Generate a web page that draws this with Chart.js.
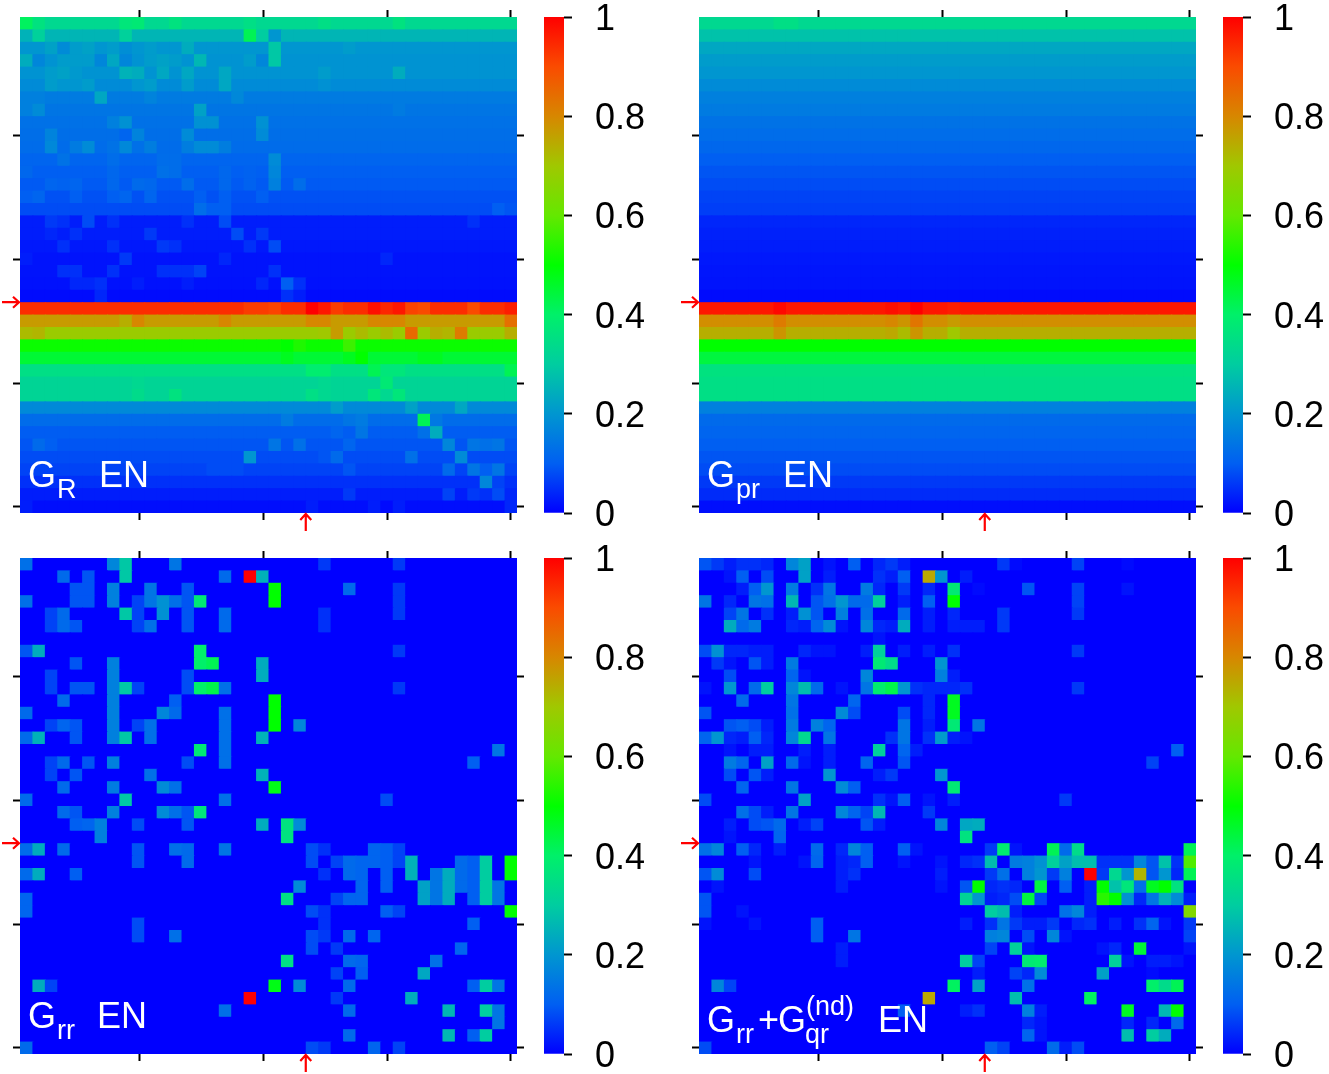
<!DOCTYPE html>
<html>
<head>
<meta charset="utf-8">
<title>G EN maps</title>
<script src="https://cdn.jsdelivr.net/npm/chart.js@4/dist/chart.umd.min.js"></script>
<style>
html, body { margin: 0; padding: 0; background: #fff; overflow: hidden; }
canvas { position: absolute; }
</style>
</head>
<body>
<script>
// tick positions, in cell units from the left / top edge
var xTickValues = [9.58, 19.56, 29.55, 39.5];
var yTickValues = [9.55, 19.55, 29.55, 39.5];
var colorbarTicks = [0, 0.2, 0.4, 0.6, 0.8, 1];
var arrowCol = 23;
var arrowRow = 23;

// colour map
var mapStops  = [0, 0.1, 0.2, 0.3, 0.4, 0.5, 0.6, 0.7, 0.8, 0.9, 1];
var mapColors = [[0,0,255],[0,95,242],[0,150,208],[0,205,160],[0,240,105],[0,255,0],[100,232,0],[160,200,0],[215,135,0],[250,75,0],[255,0,0]];

// G_R: value of each row, then [col, value, col, value...] per row where a cell differs
var grBase = [.33,.256,.2,.195,.195,.18,.15,.14,.133,.128,.123,.11,.1,.095,.085,.08,.03,.03,.025,.02,
              .02,.018,.012,.94,.77,.69,.51,.45,.35,.32,.32,.177,.123,.098,.09,.08,.07,.05,.03,.015];
var grRows = [
  [0,.41,1,.36,8,.37,9,.38,12,.36,18,.35,24,.35,30,.36],
  [0,.25,1,.31,8,.31,18,.42,19,.3,20,.2],
  [2,.22,3,.18,4,.21,5,.22,7,.21,8,.185,10,.21,13,.24,20,.29,26,.21],
  [0,.24,1,.17,3,.21,4,.21,5,.21,6,.17,7,.23,8,.17,10,.21,11,.22,12,.21,14,.26,18,.21,19,.17,20,.29],
  [2,.21,3,.22,4,.205,8,.25,9,.24,11,.23,13,.23,16,.23,24,.21,30,.24],
  [2,.21,3,.2,4,.2,5,.21,9,.2,10,.21,13,.21,16,.23,24,.19],
  [0,.16,1,.16,6,.23,10,.165,17,.175],
  [0,.16,1,.18,14,.22,30,.15],
  [7,.16,8,.19,14,.19,15,.19,19,.19],
  [2,.165,8,.11,9,.165,13,.18,19,.18],
  [2,.175,4,.15,5,.18,7,.135,8,.175,9,.13,10,.155,13,.155,14,.18,15,.18,16,.155],
  [3,.135,7,.125,11,.125,12,.125,20,.18],
  [0,.115,7,.115,11,.13,12,.125,16,.115,18,.105,20,.17],
  [2,.11,3,.105,4,.11,7,.115,9,.12,10,.115,13,.125,16,.115,18,.105,20,.16,22,.125],
  [0,.1,1,.11,4,.1,7,.1,8,.11,10,.11,14,.1,16,.1,19,.1],
  [14,.125,15,.1,16,.1,38,.1,39,.09],
  [2,.06,3,.05,5,.08,7,.05,13,.05,16,.08,36,.05],
  [2,.04,4,.05,10,.06,17,.08,19,.06],
  [3,.05,7,.05,11,.06,12,.05,18,.05,20,.08],
  [0,.03,8,.06,16,.04,29,.04],
  [3,.05,4,.05,7,.05,11,.05,12,.05,13,.05,14,.07,20,.05],
  [4,.04,5,.04,6,.05,9,.03,13,.03,19,.04,21,.1,22,.05],
  [6,.04,21,.05,22,.03],
  [18,.92,19,.92,20,.91,23,1,24,.97,25,.92,28,.98,29,.95,30,.97,31,.91,32,.9,36,.9,39,.96],
  [8,.74,9,.8,16,.8,23,.8,24,.8,28,.8,29,.8,30,.8,39,.84],
  [0,.72,1,.73,24,.7,25,.77,27,.72,29,.72,31,.85,33,.74,34,.73,35,.82,39,.74],
  [21,.5,22,.53,26,.56],
  [21,.47,26,.47,27,.5,32,.47,33,.47],
  [23,.39,24,.39,28,.42,29,.37,30,.37,39,.42],
  [9,.33,24,.33,29,.38],
  [9,.34,12,.36,23,.35,24,.33,28,.37,29,.33,30,.37],
  [25,.21,31,.22,35,.23],
  [21,.15,26,.14,27,.15,32,.42,33,.145],
  [25,.11,27,.14,32,.13,33,.24],
  [1,.12,2,.1,20,.14,22,.13,26,.11,34,.17,36,.14,37,.13,38,.14],
  [18,.2,24,.09,25,.12,31,.13,35,.18],
  [15,.08,16,.08,17,.08,26,.09,34,.12,36,.14,37,.1,38,.14],
  [37,.17,38,.07],
  [26,.06,34,.07,36,.06,37,.05,38,.08,39,.04],
  [0,.03,23,.03,28,.03,29,.01,30,.03,39,.04]
];

// G_pr
var gprBase = [.33,.28,.23,.21,.2,.18,.16,.15,.135,.125,.115,.1,.09,.08,.07,.065,.04,.035,.03,.025,
               .022,.02,.012,.97,.79,.74,.5,.44,.36,.35,.35,.16,.12,.11,.1,.09,.08,.06,.045,.015];
var gprRows = [
  [6,.35,7,.35],[],[],[],[],[],[],[],[],[],[],[],[],[],[],[],[],[],[],[],[],[],[],
  [6,.99,15,.98,16,.97,17,1,20,.96],
  [6,.82,15,.8,16,.78,17,.83,20,.77],
  [6,.78,15,.75,16,.72,17,.78,20,.7],
  [],[],[],[],[],[],[],[],[],[],[],[],[],[]
];

// G_rr
var grrBase = null;
var grrRows = [
  [0,.13,7,.17,8,.29,12,.14,24,.06,30,.06],
  [3,.12,5,.09,8,.29,16,.12,18,1,19,.25],
  [4,.09,5,.09,7,.16,10,.14,13,.09,20,.5,26,.12,30,.06],
  [0,.13,4,.09,5,.09,7,.16,9,.07,10,.14,11,.19,12,.13,13,.09,14,.38,20,.5,30,.06],
  [2,.07,3,.12,8,.29,9,.07,11,.19,13,.09,16,.12,24,.05,30,.06],
  [2,.07,3,.12,4,.09,9,.07,10,.13,13,.09,16,.12,24,.05],
  [],
  [0,.09,1,.24,14,.4,30,.06],
  [4,.09,7,.16,14,.4,15,.42,19,.24],
  [2,.07,7,.16,13,.08,19,.24],
  [2,.07,4,.09,5,.09,7,.16,8,.29,9,.07,13,.08,14,.4,15,.43,16,.13,30,.06],
  [3,.12,7,.16,12,.1,20,.5],
  [0,.12,7,.16,11,.17,12,.12,16,.13,20,.5],
  [2,.07,3,.11,4,.09,7,.16,9,.07,10,.13,16,.13,20,.5,22,.17],
  [0,.12,1,.25,4,.09,7,.16,8,.29,10,.13,16,.13,19,.25],
  [14,.38,16,.13,38,.14],
  [2,.07,3,.12,5,.09,7,.16,13,.08,16,.13,36,.1],
  [2,.07,4,.09,10,.13,19,.25],
  [3,.12,7,.15,11,.18,12,.13,20,.48],
  [0,.12,8,.29,16,.13,29,.08],
  [3,.12,4,.09,7,.16,11,.18,12,.13,13,.09,14,.37],
  [4,.1,5,.11,6,.16,9,.08,13,.09,19,.24,21,.36,22,.18],
  [6,.16,21,.36],
  [0,.12,1,.24,3,.12,9,.09,12,.13,13,.12,16,.14,23,.08,24,.05,28,.11,29,.1,30,.07],
  [9,.09,13,.12,23,.08,25,.07,26,.12,27,.11,28,.11,29,.1,30,.07,31,.25,35,.12,36,.1,37,.3,39,.5],
  [0,.12,1,.24,4,.1,24,.05,26,.12,27,.11,29,.1,31,.25,33,.14,34,.24,35,.12,36,.1,37,.3,39,.5],
  [22,.18,27,.11,29,.1,32,.22,33,.14,34,.24,35,.12,36,.1,37,.3,38,.14],
  [0,.11,21,.35,25,.07,26,.11,27,.11,32,.22,33,.14,34,.24,36,.1,37,.3,38,.14],
  [0,.11,23,.08,24,.05,29,.1,30,.07,39,.5],
  [9,.08,24,.05,36,.1],
  [9,.08,12,.13,23,.08,24,.06,26,.12,28,.11],
  [23,.08,25,.06,35,.11],
  [21,.35,26,.12,27,.11,33,.13],
  [25,.07,27,.1,32,.23],
  [1,.24,2,.07,20,.48,22,.18,26,.12,36,.1,37,.3,38,.14],
  [18,1,25,.06,31,.24],
  [16,.13,26,.12,34,.26,37,.3,38,.14],
  [38,.14],
  [26,.12,34,.26,36,.1,37,.3],
  [0,.12,23,.08,24,.06,28,.11,30,.07]
];

// G_rr + G_qr^(nd)
var gqrBase = null;
var gqrRows = [
  [0,.09,1,.06,2,.03,3,.05,4,.05,5,.04,7,.17,8,.22,10,.02,12,.1,14,.04,15,.06,16,.03,24,.06,25,.01,30,.07,34,.01],
  [2,.02,3,.1,5,.08,8,.22,10,.03,14,.05,15,.03,16,.1,18,.75,19,.2,21,.03],
  [3,.03,4,.1,5,.2,7,.15,9,.05,10,.14,13,.15,14,.04,16,.06,18,.04,20,.38,22,.01,26,.09,30,.07,34,.02],
  [0,.14,2,.04,4,.14,5,.13,7,.26,9,.09,10,.13,11,.2,12,.12,13,.12,14,.31,16,.03,18,.1,20,.5,30,.07],
  [2,.07,3,.14,5,.05,7,.03,8,.19,9,.09,11,.16,13,.13,16,.12,18,.03,20,.04,24,.06,30,.06],
  [2,.24,3,.12,4,.15,7,.04,8,.03,9,.11,10,.18,11,.02,13,.17,14,.04,15,.03,16,.24,18,.03,20,.03,21,.03,22,.03,24,.06],
  [14,.02],
  [0,.08,1,.19,2,.04,3,.04,4,.03,5,.03,8,.04,9,.02,10,.02,13,.03,14,.31,16,.03,18,.03,20,.05,30,.06],
  [1,.06,2,.02,4,.09,5,.03,7,.15,14,.38,15,.34,19,.2],
  [2,.08,7,.11,8,.02,13,.17,19,.16,20,.03],
  [0,.02,2,.2,4,.12,5,.3,7,.17,8,.27,9,.12,11,.02,13,.14,14,.39,15,.43,16,.2,17,.05,18,.04,19,.04,20,.04,21,.05,30,.06],
  [3,.12,7,.14,12,.11,18,.04,20,.47],
  [0,.09,7,.13,11,.18,12,.08,16,.08,18,.04,20,.47],
  [2,.09,3,.1,4,.08,5,.03,7,.15,9,.16,10,.11,16,.14,18,.03,20,.38,22,.14],
  [0,.11,1,.2,2,.04,3,.03,4,.1,5,.04,7,.17,8,.33,10,.14,15,.05,16,.14,18,.05,19,.21,20,.03,21,.02],
  [2,.02,4,.03,5,.03,8,.03,10,.03,14,.31,16,.11,17,.03,38,.1],
  [2,.15,3,.11,5,.22,7,.12,8,.02,10,.03,13,.11,16,.09,36,.07],
  [2,.08,4,.09,5,.03,10,.2,14,.03,15,.06,19,.2],
  [3,.11,7,.14,11,.18,12,.1,20,.38],
  [0,.08,8,.22,14,.05,15,.02,16,.1,18,.02,20,.03,29,.06],
  [3,.13,4,.08,5,.03,7,.14,11,.17,12,.11,13,.07,14,.26,18,.06],
  [2,.03,4,.08,5,.09,6,.12,8,.03,9,.07,13,.09,14,.03,19,.17,21,.23,22,.24],
  [2,.02,6,.11,21,.36],
  [0,.13,1,.17,3,.1,4,.04,6,.03,9,.12,11,.04,12,.17,13,.1,16,.1,17,.02,23,.06,24,.39,25,.02,28,.42,29,.12,30,.34,39,.42],
  [4,.02,8,.02,9,.11,11,.03,12,.04,13,.1,16,.02,19,.02,21,.04,22,.05,23,.27,25,.15,26,.16,27,.19,28,.31,29,.22,30,.27,31,.27,32,.05,33,.05,34,.05,35,.17,36,.09,37,.28,38,.05,39,.58],
  [0,.09,1,.18,4,.08,11,.03,12,.05,19,.03,23,.06,24,.13,26,.16,27,.2,28,.06,29,.16,31,1,32,.06,33,.33,34,.2,35,.73,36,.09,37,.2,38,.04,39,.42],
  [1,.02,11,.03,19,.02,21,.09,22,.5,23,.04,24,.05,25,.04,27,.44,29,.1,31,.03,32,.5,33,.28,34,.37,35,.13,36,.47,37,.5,38,.36],
  [0,.09,21,.32,22,.2,23,.03,24,.04,25,.08,26,.44,27,.07,31,.03,32,.54,33,.5,34,.19,35,.04,36,.14,37,.25,38,.18,39,.03],
  [0,.09,3,.02,23,.3,24,.27,25,.03,29,.13,30,.17,31,.03,39,.65],
  [0,.02,4,.02,9,.1,21,.03,23,.05,24,.14,25,.06,26,.03,27,.03,28,.06,30,.04,31,.05,33,.03,35,.05,36,.11,37,.02,39,.06],
  [9,.1,12,.14,23,.16,24,.17,26,.08,28,.17,29,.02,39,.07],
  [11,.03,23,.07,25,.31,26,.02,32,.02,33,.04,35,.45,39,.02],
  [11,.03,21,.3,22,.07,26,.38,27,.39,33,.31,34,.02,36,.03,37,.03,38,.02],
  [22,.03,25,.07,26,.04,27,.18,32,.22,36,.01],
  [1,.17,2,.07,20,.41,22,.22,26,.13,36,.4,37,.34,38,.42],
  [18,.75,25,.27,31,.41],
  [16,.1,21,.03,22,.05,26,.16,27,.03,34,.47,37,.26,38,.5],
  [26,.04,27,.02,34,.04,36,.04,38,.12],
  [26,.11,27,.02,34,.27,36,.3,37,.24],
  [0,.08,23,.1,24,.07,28,.12,29,.03,30,.08]
];

function colorFor(v) {
    for (var i = 1; i < mapStops.length; i++) {
        if (v <= mapStops[i]) {
            var t = (v - mapStops[i - 1]) / (mapStops[i] - mapStops[i - 1]);
            var a = mapColors[i - 1], b = mapColors[i];
            return 'rgb(' + Math.round(a[0] + (b[0] - a[0]) * t) + ',' +
                            Math.round(a[1] + (b[1] - a[1]) * t) + ',' +
                            Math.round(a[2] + (b[2] - a[2]) * t) + ')';
        }
    }
    return 'rgb(255,0,0)';
}

// squares are 1px oversize so no seams show; the .54 keeps their left/top edges on the cell edge
function buildCells(base, rows) {
    var cells = [];
    for (var r = 0; r < 40; r++) {
        var line = [];
        for (var c = 0; c < 40; c++) line.push(base ? base[r] : 0);
        for (var k = 0; k < rows[r].length; k += 2) line[rows[r][k]] = rows[r][k + 1];
        for (c = 0; c < 40; c++) cells.push({ x: c + 0.54, y: r + 0.54, v: line[c] });
    }
    return cells;
}

// arrows and the white panel label
var panelDecor = {
    id: 'panelDecor',
    afterDraw: function(chart, args, opts) {
        var ctx = chart.ctx;
        var xp = chart.scales.x.getPixelForValue(arrowCol);
        var yp = chart.scales.y.getPixelForValue(arrowRow);
        var area = chart.chartArea;
        ctx.save();
        ctx.strokeStyle = '#ff0000';
        ctx.lineWidth = 2.2;
        ctx.beginPath();
        ctx.moveTo(area.left - 18, yp);
        ctx.lineTo(area.left - 1, yp);
        ctx.moveTo(area.left - 7, yp - 5.5);
        ctx.lineTo(area.left - 1, yp);
        ctx.lineTo(area.left - 7, yp + 5.5);
        ctx.moveTo(xp, area.bottom + 18);
        ctx.lineTo(xp, area.bottom + 1);
        ctx.moveTo(xp - 5.5, area.bottom + 7);
        ctx.lineTo(xp, area.bottom + 1);
        ctx.lineTo(xp + 5.5, area.bottom + 7);
        ctx.stroke();
        ctx.fillStyle = '#ffffff';
        ctx.textBaseline = 'alphabetic';
        opts.runs.forEach(function(run) {
            ctx.font = run[3] + 'px "Liberation Sans"';
            ctx.fillText(run[0], area.left + run[1], area.top + run[2]);
        });
        ctx.restore();
    }
};

function tickAxis(position, values) {
    return {
        type: 'linear',
        position: position,
        min: 0,
        max: 40,
        reverse: position === 'left' || position === 'right',
        border: { display: false },
        grid: { drawOnChartArea: false, tickLength: 7, tickWidth: 2, tickColor: '#000' },
        ticks: { display: false },
        afterBuildTicks: function(axis) {
            axis.ticks = values.map(function(v) { return { value: v }; });
        }
    };
}

function drawPanel(left, top, base, rows, runs) {
    var canvas = document.createElement('canvas');
    canvas.style.left = (left - 20) + 'px';
    canvas.style.top = (top - 17) + 'px';
    canvas.style.width = '537px';
    canvas.style.height = '533px';
    canvas.width = 537;
    canvas.height = 533;
    document.body.appendChild(canvas);
    var cells = buildCells(base, rows);
    var colors = cells.map(function(d) { return colorFor(d.v); });
    new Chart(canvas, {
        type: 'scatter',
        plugins: [panelDecor],
        data: {
            datasets: [{
                data: cells,
                pointStyle: 'rect',
                pointRadius: 9.5,
                pointBackgroundColor: colors,
                pointBorderWidth: 0
            }]
        },
        options: {
            responsive: false,
            animation: false,
            events: [],
            layout: { padding: { left: 13, right: 13, top: 10, bottom: 13 } },
            plugins: { legend: { display: false }, tooltip: { enabled: false }, panelDecor: { runs: runs } },
            scales: {
                x: tickAxis('bottom', xTickValues),
                xTop: tickAxis('top', xTickValues),
                y: tickAxis('left', yTickValues),
                yRight: tickAxis('right', yTickValues)
            }
        }
    });
}

function drawColorbar(left, top) {
    var canvas = document.createElement('canvas');
    canvas.style.left = (left - 4) + 'px';
    canvas.style.top = (top - 50) + 'px';
    canvas.style.width = '105px';
    canvas.style.height = '596px';
    canvas.width = 105;
    canvas.height = 596;
    document.body.appendChild(canvas);
    new Chart(canvas, {
        type: 'bar',
        data: {
            labels: [''],
            datasets: [{
                data: [[0, 1]],
                barPercentage: 1,
                categoryPercentage: 1,
                backgroundColor: function(context) {
                    var area = context.chart.chartArea;
                    if (!area) return '#00f';
                    var g = context.chart.ctx.createLinearGradient(0, area.bottom, 0, area.top);
                    mapStops.forEach(function(s) { g.addColorStop(s, colorFor(s)); });
                    return g;
                }
            }]
        },
        options: {
            responsive: false,
            animation: false,
            events: [],
            layout: { padding: { left: 4, right: 0, top: 50, bottom: 50 } },
            plugins: { legend: { display: false }, tooltip: { enabled: false } },
            scales: {
                x: { display: false },
                y: {
                    position: 'right',
                    min: 0,
                    max: 1,
                    border: { display: false },
                    grid: { drawOnChartArea: false, tickLength: 8, tickWidth: 2, tickColor: '#000' },
                    ticks: {
                        padding: 23,
                        labelOffset: 3,
                        crossAlign: 'near',
                        color: '#000',
                        font: { family: '"Liberation Sans"', size: 36 },
                        callback: function(v) { return String(v); }
                    },
                    afterBuildTicks: function(axis) {
                        axis.ticks = colorbarTicks.map(function(v) { return { value: v }; });
                    },
                    afterFit: function(axis) { axis.width = 81; }
                }
            }
        }
    });
}

drawPanel(20, 17, grBase, grRows, [['G', 8, 470, 36], ['R', 37, 481, 27], ['EN', 79, 470, 36]]);
drawPanel(699, 17, gprBase, gprRows, [['G', 8, 470, 36], ['pr', 37, 481, 27], ['EN', 84, 470, 36]]);
drawPanel(20, 558, grrBase, grrRows, [['G', 8, 470, 36], ['rr', 37, 481, 27], ['EN', 77, 470, 36]]);
drawPanel(699, 558, gqrBase, gqrRows, [['G', 8, 474, 36], ['rr', 37, 485, 27], ['+', 59, 474, 36], ['G', 79, 474, 36],
    ['qr', 106, 485, 27], ['(nd)', 107, 457, 27], ['EN', 179, 474, 36]]);

drawColorbar(544, 17);
drawColorbar(1223, 17);
drawColorbar(544, 558);
drawColorbar(1223, 558);
</script>
</body>
</html>
